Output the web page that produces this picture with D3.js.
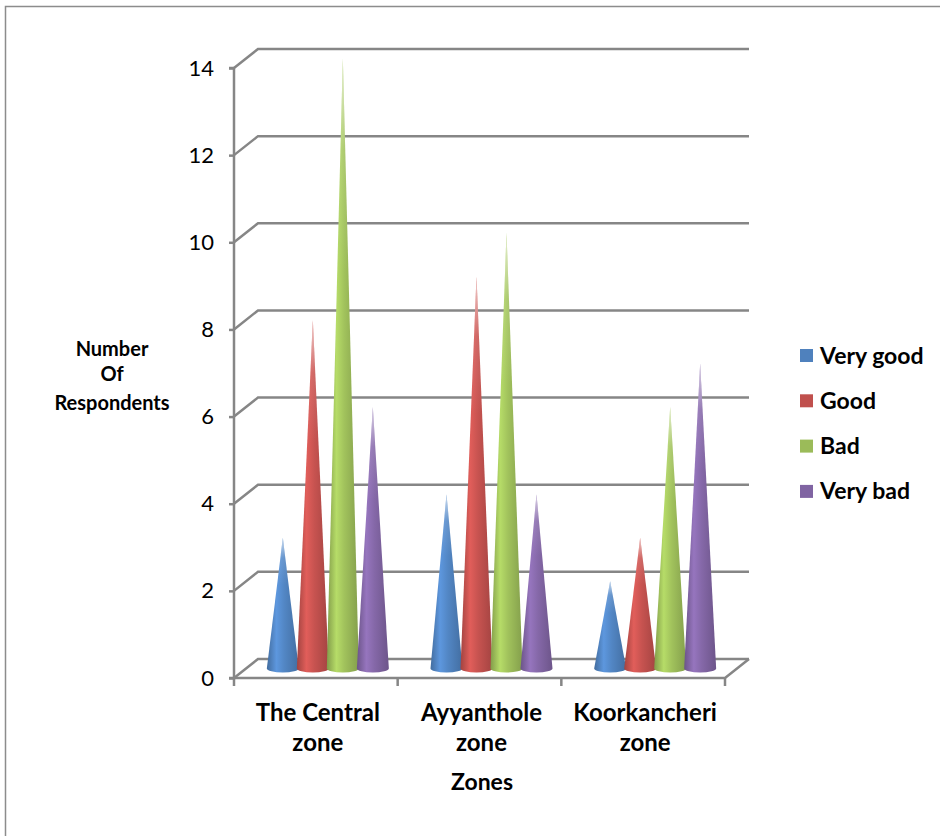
<!DOCTYPE html>
<html>
<head>
<meta charset="utf-8">
<script src="https://cdn.jsdelivr.net/npm/d3@7"></script>
<style>
  html, body { margin: 0; padding: 0; background: #fff; }
  svg { display: block; }
  text { font-family: Lato, "Open Sans", sans-serif; fill: #000; }
</style>
</head>
<body>
<svg id="chart" width="940" height="836"></svg>
<script>
// Respondents per zone and rating
const zones = ["The Central zone", "Ayyanthole zone", "Koorkancheri zone"];
const zoneLines = [["The Central", "zone"], ["Ayyanthole", "zone"], ["Koorkancheri", "zone"]];
const seriesNames = ["Very good", "Good", "Bad", "Very bad"];
const veryGood = [3, 4, 2];
const good = [8, 9, 3];
const bad = [14, 10, 6];
const veryBad = [6, 4, 7];
const yTicks = [0, 2, 4, 6, 8, 10, 12, 14];
const colors = ["#4F81BD", "#C0504D", "#9BBB59", "#8064A2"];

const seriesValues = [veryGood, good, bad, veryBad];

const svg = d3.select("#chart");

// outer frame
svg.append("rect")
  .attr("x", 5.5).attr("y", 6.5).attr("width", 960).attr("height", 860)
  .attr("fill", "none").attr("stroke", "#8c8c8c").attr("stroke-width", 1.5);

// plot geometry: front plane plus depth offset for the back wall
const left = 234, right = 725, yBottom = 678, yTop = 68;
const depthX = 24, depthY = -19;

const x = d3.scaleBand().domain(zones).range([left, right]);
const xs = d3.scaleBand().domain(seriesNames).range([-60, 60]);
const y = d3.scaleLinear().domain([0, 14]).range([yBottom, yTop]);

const gridColor = "#868686";
const grid = svg.append("g");

// back wall gridlines with their short diagonal towards the front axis
yTicks.forEach(v => {
  const yf = y(v), yb = y(v) + depthY;
  grid.append("path")
    .attr("d", `M${left},${yf}L${left + depthX},${yb}L${right + depthX},${yb}`)
    .attr("fill", "none").attr("stroke", gridColor).attr("stroke-width", 2.5);
});

// floor outline
grid.append("path")
  .attr("d", `M${left},${yBottom}L${right},${yBottom}L${right + depthX},${yBottom + depthY}`)
  .attr("fill", "none").attr("stroke", gridColor).attr("stroke-width", 2.5);

// y axis
const yAxis = d3.axisLeft(y).tickValues(yTicks).tickSize(5).tickPadding(15);
const gy = svg.append("g").attr("transform", `translate(${left},0)`).call(yAxis);
gy.select(".domain").attr("stroke", gridColor).attr("stroke-width", 2.5)
  .attr("d", `M-5,${yTop}H0V${yBottom}H-5`);
gy.selectAll(".tick line").attr("stroke", gridColor).attr("stroke-width", 2.5);
gy.selectAll(".tick text").style("font-size", "22px").style("font-family", "Lato, sans-serif");

// x axis ticks at category boundaries
const xAxis = d3.axisBottom(x).tickSize(0).tickFormat("");
const gx = svg.append("g").attr("transform", `translate(0,${yBottom})`).call(xAxis);
gx.select(".domain").remove();
const boundaries = zones.map(z => x(z)).concat([x(zones[zones.length - 1]) + x.bandwidth()]);
gx.selectAll(".bound").data(boundaries).enter().append("line")
  .attr("x1", d => d).attr("x2", d => d).attr("y1", 0).attr("y2", 8)
  .attr("stroke", gridColor).attr("stroke-width", 2.5);

// gradients for cone shading
const defs = svg.append("defs");
colors.forEach((c, i) => {
  const base = d3.color(c);
  const g = defs.append("linearGradient").attr("id", "cone" + i)
    .attr("x1", "0").attr("x2", "1").attr("y1", "0").attr("y2", "0");
  g.append("stop").attr("offset", "0%").attr("stop-color", base.darker(0.5));
  g.append("stop").attr("offset", "30%").attr("stop-color", base.brighter(0.45));
  g.append("stop").attr("offset", "55%").attr("stop-color", base.brighter(0.1));
  g.append("stop").attr("offset", "100%").attr("stop-color", base.darker(0.45));
});
const tipFade = defs.append("linearGradient").attr("id", "tipFade")
  .attr("x1", "0").attr("x2", "0").attr("y1", "0").attr("y2", "1");
tipFade.append("stop").attr("offset", "0%").attr("stop-color", "#fff").attr("stop-opacity", 0.7);
tipFade.append("stop").attr("offset", "15%").attr("stop-color", "#fff").attr("stop-opacity", 0.12);
tipFade.append("stop").attr("offset", "35%").attr("stop-color", "#fff").attr("stop-opacity", 0);

// cones sit halfway into the depth of the plot
const halfW = 16, ry = 4;
const midX = depthX / 2, midY = depthY / 2;
const cones = svg.append("g");
zones.forEach((z, zi) => {
  seriesNames.forEach((s, si) => {
    const v = seriesValues[si][zi];
    const cx = x(z) + x.bandwidth() / 2 + xs(s) + xs.bandwidth() / 2 + midX;
    const by = y(0) + midY;
    const ty = y(v) + midY;
    const d = `M${cx - halfW},${by}L${cx},${ty}L${cx + halfW},${by}` +
              `A${halfW},${ry} 0 0 1 ${cx - halfW},${by}Z`;
    cones.append("path").attr("d", d).attr("fill", `url(#cone${si})`);
    cones.append("path").attr("d", d).attr("fill", "url(#tipFade)");
  });
});

// category labels
zoneLines.forEach((lines, i) => {
  const cx = x(zones[i]) + x.bandwidth() / 2 + 2;
  const t = svg.append("text")
    .attr("x", cx).attr("y", 721)
    .attr("text-anchor", "middle")
    .style("font-size", "24px").style("font-weight", "bold");
  lines.forEach((l, j) => t.append("tspan")
    .attr("x", cx).attr("dy", j === 0 ? 0 : 30).text(l));
});

// axis titles
svg.append("text").attr("x", 482).attr("y", 790).attr("text-anchor", "middle")
  .style("font-size", "23px").style("font-weight", "bold").text("Zones");

const yTitle = svg.append("text").attr("text-anchor", "middle")
  .style("font-size", "20px").style("font-weight", "bold");
[["Number", 356], ["Of", 381], ["Respondents", 410]].forEach(([t, yy]) => {
  yTitle.append("tspan").attr("x", 112).attr("y", yy).text(t);
});

// legend
const legend = svg.append("g");
seriesNames.forEach((s, i) => {
  const ly = 355.5 + i * 45.3;
  legend.append("rect").attr("x", 800).attr("y", ly - 6.5).attr("width", 13).attr("height", 13)
    .attr("fill", colors[i]);
  legend.append("text").attr("x", 820).attr("y", ly + 8)
    .style("font-size", "23px").style("font-weight", "bold").text(s);
});
</script>
</body>
</html>
